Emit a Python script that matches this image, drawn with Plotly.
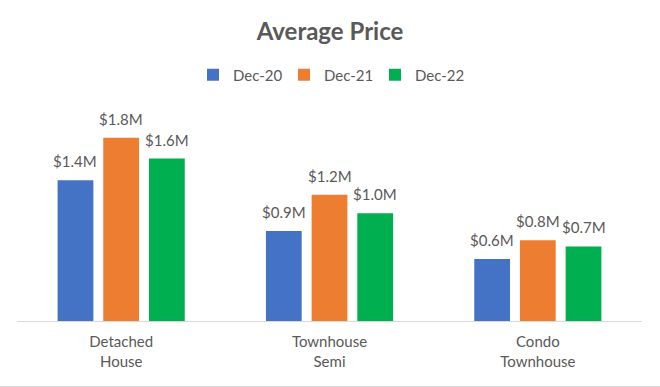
import plotly.graph_objects as go

categories = ["Detached<br>House", "Townhouse<br>Semi", "Condo<br>Townhouse"]
series_names = ["Dec-20", "Dec-21", "Dec-22"]
dec20 = [1.36, 0.87, 0.60]   # $ millions
dec21 = [1.77, 1.22, 0.78]
dec22 = [1.57, 1.04, 0.72]
colors = ["#4472C4", "#ED7D31", "#00B050"]

FONT = "Lato, 'Open Sans', sans-serif"
GREY = "#595959"

W, H = 660, 387
ML, MR, MT, MB = 17, 18, 114, 66
BARGAP = 0.342
plot_w = W - ML - MR
plot_h = H - MT - MB
n_cat, n_ser = len(categories), len(series_names)
slot = plot_w / n_cat * (1 - BARGAP) / n_ser

fig = go.Figure()
annotations = []
for i, (name, vals, col) in enumerate(zip(series_names, [dec20, dec21, dec22], colors)):
    fig.add_trace(go.Bar(
        x=categories, y=vals, name=name,
        marker=dict(color=col, line=dict(width=0)),
    ))
    for c, v in zip(categories, vals):
        annotations.append(dict(
            x=c, y=v, xref="x", yref="y", text=f"${v:.1f}M",
            showarrow=False, yanchor="bottom", xanchor="center",
            xshift=(i - (n_ser - 1) / 2) * slot, yshift=8,
            font=dict(family=FONT, size=15, color=GREY),
        ))

fig.update_layout(
    width=W, height=H,
    margin=dict(l=ML, r=MR, t=MT, b=MB),
    paper_bgcolor="white", plot_bgcolor="white",
    barmode="group", bargap=BARGAP, bargroupgap=0.217,
    annotations=annotations,
    title=dict(text="<b>Average Price</b>", x=0.5, xanchor="center",
               y=1 - 32 / H, yanchor="middle",
               font=dict(family=FONT, size=24, color=GREY)),
    legend=dict(orientation="h", x=0.5, xanchor="center",
                y=1 - 75 / H, yref="container", yanchor="middle",
                font=dict(family=FONT, size=15, color=GREY),
                itemwidth=30, entrywidth=46, entrywidthmode="pixels",
                tracegroupgap=0),
    showlegend=True,
    xaxis=dict(showline=True, linecolor="#D9D9D9", linewidth=1, automargin=False,
               ticks="", tickfont=dict(family=FONT, size=15, color=GREY),
               ticklabelstandoff=7,
               showgrid=False, zeroline=False),
    yaxis=dict(range=[0, 2.0], visible=False, showgrid=False, zeroline=False,
               automargin=False),
    font=dict(family=FONT, color=GREY),
)
fig.add_shape(type="line", xref="paper", yref="paper",
              x0=-ML / plot_w, x1=1 + MR / plot_w,
              y0=-(MB - 0.5) / plot_h, y1=-(MB - 0.5) / plot_h,
              line=dict(color="#D9D9D9", width=1))

fig.write_html("out.html", config={"displayModeBar": False},
               post_script="document.body.style.margin='0';")
